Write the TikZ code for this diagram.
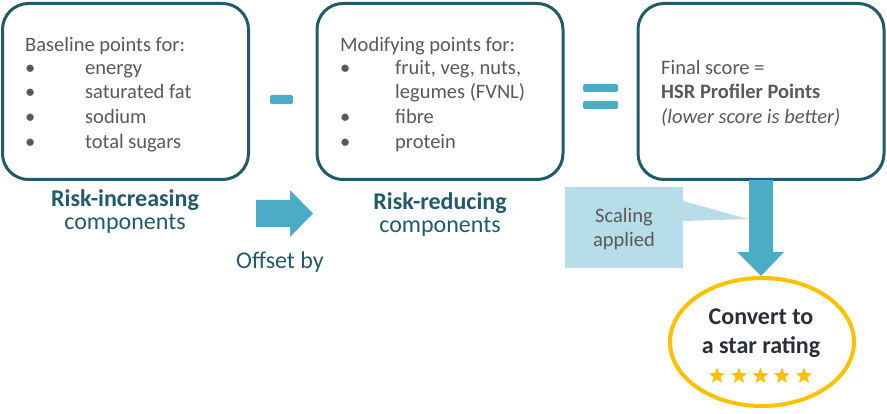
\documentclass[tikz,border=0pt]{standalone}
\usepackage{fontspec}
\setmainfont{Carlito}
\usetikzlibrary{shapes.geometric}
\definecolor{dteal}{HTML}{215B69}
\definecolor{lteal}{HTML}{4BACC6}
\definecolor{lblue}{HTML}{B7DEE8}
\definecolor{gtext}{HTML}{595959}
\definecolor{gold}{HTML}{FFC000}
\definecolor{dgray}{HTML}{2A2E36}
\begin{document}
\begin{tikzpicture}[x=1pt,y=-1pt,
  box/.style={draw=dteal,line width=3pt,rounded corners=26pt,fill=white,minimum width=246pt,minimum height=176pt,inner sep=0pt},
  txt/.style={anchor=west,inner sep=0pt,text=gtext,font=\fontsize{20.5}{24}\selectfont,text height=14pt,text depth=4.5pt,yshift=-2pt},
  bar/.style={fill=lteal,rounded corners=2pt,inner sep=0pt},
  lab/.style={inner sep=0pt,text=dteal,font=\fontsize{24}{22}\selectfont,text height=15pt,text depth=5pt},
  ctext/.style={align=center,inner sep=0pt,text=gtext,font=\fontsize{20.5}{24}\selectfont},
  starb/.style={star,star points=5,star point ratio=2.4,fill=gold,inner sep=0pt,minimum size=17pt}
]
\useasboundingbox (0,0) rectangle (887,414);

% boxes
\node[box] (b1) at (125.5,91.5) {};
\node[box] (b2) at (440,91.5) {};
\node[box] (b3) at (761,91.5) {};

% box 1 text
\node[txt] (b1h) at (25,45) {Baseline points for:};
\foreach \y/\t [count=\i] in {68/energy,92/saturated fat,117/sodium,142/total sugars}{
  \node[txt] (b1d\i) at (25,\y) {•};
  \node[txt] (b1t\i) at (85,\y) {\t};
}
% box 2 text
\node[txt] (b2h) at (340,45) {Modifying points for:};
\node[txt] (b2d1) at (340,68) {•};
\node[txt] (b2t1) at (395,68) {fruit, veg, nuts,};
\node[txt] (b2t2) at (395,92) {legumes (FVNL)};
\node[txt] (b2d3) at (340,117) {•};
\node[txt] (b2t3) at (395,117) {fibre};
\node[txt] (b2d4) at (340,142) {•};
\node[txt] (b2t4) at (395,142) {protein};
% box 3 text
\node[txt] (b3t1) at (661,68) {Final score =};
\node[txt,font=\fontsize{20.5}{24}\selectfont\bfseries] (b3t2) at (661,92) {HSR Profiler Points};
\node[txt,font=\fontsize{20.5}{24}\selectfont\itshape] (b3t3) at (661,117) {(lower score is better)};

% operators
\node[bar,minimum width=23pt,minimum height=9pt] (minus) at (281.5,99.5) {};
\node[bar,minimum width=35pt,minimum height=8pt] (eq1) at (600.5,88) {};
\node[bar,minimum width=35pt,minimum height=8pt] (eq2) at (600.5,105) {};

% labels
\node[lab,font=\fontsize{24}{22}\selectfont\bfseries] (l1a) at (125,202) {Risk-increasing};
\node[lab] (l1b) at (125,225) {components};
\node[lab,font=\fontsize{24}{22}\selectfont\bfseries] (l2a) at (440,205) {Risk-reducing};
\node[lab] (l2b) at (440,228) {components};
\node[lab] (off) at (280,264) {Offset by};

% right arrow
\fill[lteal] (256,200) -- (290,200) -- (290,190) -- (313,213.5) -- (290,237) -- (290,227) -- (256,227) -- cycle;

% scaling callout
\fill[lblue] (565,187) -- (683,187) -- (683,201) -- (748,219) -- (683,221) -- (683,268) -- (565,268) -- cycle;
\node[ctext] (scal) at (624,229) {Scaling\\applied};

% down arrow
\fill[lteal] (749,180) -- (773,180) -- (773,252) -- (784,252) -- (761,276) -- (737,252) -- (749,252) -- cycle;

% ellipse
\node[ellipse,draw=gold,line width=4pt,minimum width=184pt,minimum height=128pt,inner sep=0pt] (ell) at (762,342) {};
\node[align=center,inner sep=0pt,text=dgray,font=\fontsize{24}{29}\selectfont\bfseries] (conv) at (761,333) {Convert to\\a star rating};
\foreach \x [count=\i] in {717,739,760.5,782,804}{
  \node[starb] (s\i) at (\x,376) {};
}
\end{tikzpicture}
\end{document}
